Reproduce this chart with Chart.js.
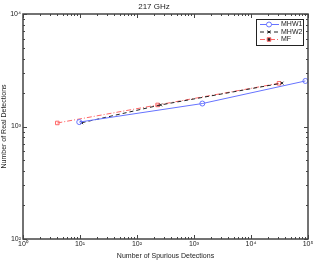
<!DOCTYPE html>
<html>
<head>
<meta charset="utf-8">
<script src="https://cdn.jsdelivr.net/npm/chart.js@4.4.1/dist/chart.umd.min.js"></script>
<style>
  html, body { margin: 0; padding: 0; background: #fff; }
  #wrap { width: 316px; height: 260px; }
</style>
</head>
<body>
<div id="wrap"><canvas id="myChart" width="316" height="260"></canvas></div>
<script>
// values (x = spurious, y = real detections)
const seriesNames = ['MHW1', 'MHW2', 'MF'];
const mhw1X = [9.7, 1400, 90000];
const mhw1Y = [1095, 1600, 2540];
const mhw2X = [10.7, 260, 35000];
const mhw2Y = [1080, 1555, 2430];
const mfX = [4.0, 230, 31000];
const mfY = [1075, 1555, 2420];

const xDecades = [1, 10, 100, 1000, 10000, 100000];
const yDecades = [100, 1000, 10000];
const sup = ['⁰', '¹', '²', '³', '⁴', '⁵'];

function pts(xs, ys) {
    return xs.map((x, i) => ({x: x, y: ys[i]}));
}
function decLabel(v) {
    return '10' + sup[Math.round(Math.log10(v))];
}

const FONT = 'Liberation Sans, Arial, sans-serif';
const frameColor = '#444';

// frame, inner ticks and legend (matlab style)
const matlabAxes = {
    id: 'matlabAxes',
    afterDraw(chart) {
        const c = chart.ctx;
        const a = chart.chartArea;
        const xs = chart.scales.x, ys = chart.scales.y;
        c.save();
        c.strokeStyle = frameColor;
        c.lineWidth = 1;
        c.beginPath();
        // x ticks
        for (let d = 0; d < 5; d++) {
            for (let m = 1; m <= 10; m++) {
                const v = Math.pow(10, d) * m;
                const px = Math.round(xs.getPixelForValue(v)) + 0.5;
                const len = (m === 1 || m === 10) ? 4 : 2;
                c.moveTo(px, a.bottom); c.lineTo(px, a.bottom - len);
                c.moveTo(px, a.top); c.lineTo(px, a.top + len);
            }
        }
        // y ticks
        for (let d = 2; d < 4; d++) {
            for (let m = 1; m <= 10; m++) {
                const v = Math.pow(10, d) * m;
                const py = Math.round(ys.getPixelForValue(v)) + 0.5;
                const len = (m === 1 || m === 10) ? 4 : 2;
                c.moveTo(a.left, py); c.lineTo(a.left + len, py);
                c.moveTo(a.right, py); c.lineTo(a.right - len, py);
            }
        }
        c.stroke();
        c.lineWidth = 1.5;
        c.strokeRect(a.left, a.top, a.right - a.left, a.bottom - a.top);

        // legend box
        const lx = 256, ly = 19, lw = 47, lh = 26;
        c.fillStyle = '#fff';
        c.fillRect(lx, ly, lw, lh);
        c.lineWidth = 1;
        c.strokeStyle = '#222';
        c.strokeRect(lx + 0.5, ly + 0.5, lw, lh);
        c.font = '7px ' + FONT;
        c.textBaseline = 'middle';
        chart.data.datasets.forEach((ds, i) => {
            const yy = ly + 5.5 + i * 7.5;
            c.strokeStyle = ds.borderColor;
            c.lineWidth = 1;
            c.setLineDash(ds.borderDash || []);
            c.beginPath();
            c.moveTo(lx + 4, yy); c.lineTo(lx + 23, yy);
            c.stroke();
            c.setLineDash([]);
            Chart.helpers.drawPoint(c, {
                pointStyle: ds.pointStyle, radius: ds.pointRadius,
                borderWidth: 1, rotation: 0
            }, lx + 13, yy);
            c.fillStyle = '#222';
            c.fillText(ds.label, lx + 25, yy);
        });
        c.restore();
    }
};

const ctx = document.getElementById('myChart').getContext('2d');

const myChart = new Chart(ctx, {
    type: 'scatter',
    data: {
        datasets: [{
            label: seriesNames[0],
            data: pts(mhw1X, mhw1Y),
            borderColor: '#6673ff',
            backgroundColor: 'rgba(0,0,0,0)',
            borderWidth: 1,
            pointStyle: 'circle',
            pointRadius: 2.5,
            showLine: true
        }, {
            label: seriesNames[1],
            data: pts(mhw2X, mhw2Y),
            borderColor: '#222',
            backgroundColor: 'rgba(0,0,0,0)',
            borderWidth: 1,
            borderDash: [4, 3],
            pointStyle: 'crossRot',
            pointRadius: 2,
            showLine: true
        }, {
            label: seriesNames[2],
            data: pts(mfX, mfY),
            borderColor: '#ff6666',
            backgroundColor: 'rgba(0,0,0,0)',
            borderWidth: 1,
            borderDash: [5, 2, 1, 2],
            pointStyle: 'rect',
            pointRadius: 2.5,
            showLine: true
        }]
    },
    options: {
        responsive: false,
        animation: false,
        layout: { padding: { left: 0, right: 8, top: 0, bottom: 0 } },
        plugins: {
            legend: { display: false },
            tooltip: { enabled: false },
            title: {
                display: true,
                text: '217 GHz',
                color: '#222',
                font: { family: FONT, size: 8, weight: 'normal' },
                padding: { top: 2, bottom: 2.4 }
            }
        },
        scales: {
            x: {
                type: 'logarithmic',
                min: 1, max: 100000,
                afterBuildTicks: s => { s.ticks = xDecades.map(v => ({value: v})); },
                afterFit: s => { s.height = 21; },
                grid: { display: false, drawTicks: false, tickLength: 0 },
                border: { display: false },
                ticks: {
                    callback: v => decLabel(v),
                    color: '#222', padding: 1, maxRotation: 0, autoSkip: false,
                    font: { family: FONT, size: 7 }
                },
                title: {
                    display: true, text: 'Number of Spurious Detections', color: '#222',
                    font: { family: FONT, size: 7 }, padding: 0
                }
            },
            y: {
                type: 'logarithmic',
                min: 100, max: 10000,
                afterBuildTicks: s => { s.ticks = yDecades.map(v => ({value: v})); },
                afterFit: s => { s.width = 23; },
                grid: { display: false, drawTicks: false, tickLength: 0 },
                border: { display: false },
                ticks: {
                    callback: v => decLabel(v),
                    color: '#222', padding: 2, autoSkip: false,
                    font: { family: FONT, size: 7 }
                },
                title: {
                    display: true, text: 'Number of Real Detections', color: '#222',
                    font: { family: FONT, size: 7 }, padding: 0
                }
            }
        }
    },
    plugins: [matlabAxes]
});
</script>
</body>
</html>
